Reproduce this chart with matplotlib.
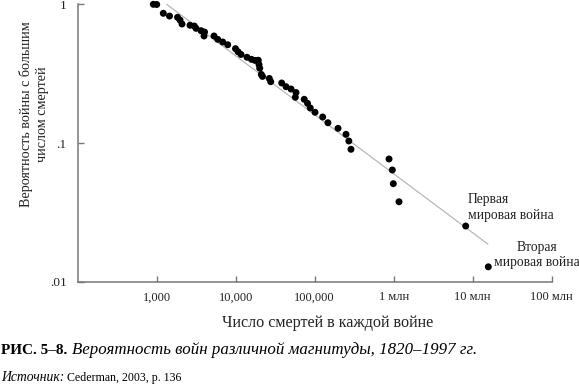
import numpy as np
import matplotlib
matplotlib.use('Agg')
import matplotlib.pyplot as plt
from matplotlib.ticker import FixedLocator, NullLocator

plt.rcParams['font.family'] = ['Liberation Serif', 'DejaVu Serif']

# число смертей в войне и вероятность войны с большим числом смертей
deaths = [906, 1000, 1212, 1452, 1834, 1972, 2090, 2640, 2992, 3144,
          3637, 4027, 3970, 5312, 5918, 6843, 7920, 9937, 10700, 11670,
          13900, 15850, 17540, 19320, 19720, 20130, 21090, 21840, 26620, 27730,
          38200, 43350, 50120, 57980, 56800, 73620, 81100, 87900, 100900, 126200,
          146900, 197200, 248900, 270300, 287800, 872400, 960000, 988000, 1167000,
          8150000, 15750000]
prob = [1.0, 0.997, 0.861, 0.823, 0.806, 0.770, 0.721, 0.706, 0.697, 0.671,
        0.645, 0.631, 0.591, 0.591, 0.559, 0.535, 0.511, 0.479, 0.455, 0.435,
        0.415, 0.401, 0.394, 0.395, 0.368, 0.346, 0.312, 0.302, 0.292, 0.2767,
        0.2708, 0.2546, 0.245, 0.2312, 0.2136, 0.2065, 0.1932, 0.1788, 0.1665, 0.154,
        0.140, 0.1276, 0.1155, 0.1034, 0.0901, 0.0767, 0.0639, 0.0509, 0.0377,
        0.0252, 0.0128]

# линия степенного закона (концы)
fit_x = [1339, 15490000]
fit_y = [1.0, 0.0187]

xticks = [1e3, 1e4, 1e5, 1e6, 1e7, 1e8]
xtick_labels = ['1,000', '10,000', '100,000', '1 млн', '10 млн', '100 млн']
yticks = [0.01, 0.1, 1]
ytick_labels = ['.01', '.1', '1']

fig = plt.figure(figsize=(5.79, 3.84), dpi=100)
ax = fig.add_axes([0.1342, 0.2664, 0.8187, 0.7224])

ax.plot(fit_x, fit_y, color='#b8b8b8', linewidth=0.9, zorder=1)
ax.scatter(deaths, prob, s=25, color='black', edgecolors='none', zorder=3, clip_on=False)

ax.set_xscale('log')
ax.set_yscale('log')
ax.set_xlim(100, 1e8)
ax.set_ylim(0.01, 1)

ax.xaxis.set_major_locator(FixedLocator(xticks))
ax.xaxis.set_minor_locator(NullLocator())
ax.yaxis.set_major_locator(FixedLocator(yticks))
ax.yaxis.set_minor_locator(NullLocator())
ax.set_xticklabels(xtick_labels)
ax.set_yticklabels(ytick_labels)

for s in ['top', 'right']:
    ax.spines[s].set_visible(False)
for s in ['left', 'bottom']:
    ax.spines[s].set_color('#777777')
    ax.spines[s].set_linewidth(1.1)

ax.tick_params(axis='x', direction='in', length=4, width=1, color='#777777',
               labelsize=9, labelcolor='#222222', pad=7)
ax.tick_params(axis='y', direction='in', length=4.5, width=1, color='#777777',
               labelsize=9.5, labelcolor='#222222', pad=8)

ax.set_xlabel('Число смертей в каждой войне', fontsize=11.6, color='#222222')
ax.xaxis.set_label_coords(0.528, -0.121)
ax.set_ylabel('Вероятность войны с большим\nчислом смертей', fontsize=10.2,
              color='#222222', linespacing=1.3)
ax.yaxis.set_label_coords(-0.06, 0.605)

ax.text(8.73e6, 0.0343, 'Первая\nмировая война', fontsize=9.8, color='#222222',
        ha='left', va='center', linespacing=1.25)
ax.text(6.52e7, 0.01558, 'Вторая\nмировая война', fontsize=9.8, color='#222222',
        ha='center', va='center', linespacing=1.25, multialignment='center')

# подпись к рисунку
fig.canvas.draw()
r = fig.canvas.get_renderer()
t1 = fig.text(1 / 579, 1 - 350 / 384, 'РИС. 5–8.', fontsize=11, weight='bold',
              va='center', ha='left')
bb = t1.get_window_extent(renderer=r)
fig.text(bb.x1 / 579 + 5 / 579, 1 - 350 / 384,
         'Вероятность войн различной магнитуды, 1820–1997 гг.',
         fontsize=12.2, style='italic', va='center', ha='left')
t2 = fig.text(1 / 579, 1 - 377.5 / 384, 'Источник:', fontsize=9.8, style='italic',
              va='center', ha='left')
bb2 = t2.get_window_extent(renderer=r)
fig.text(bb2.x1 / 579 + 3 / 579, 1 - 377.5 / 384, 'Cederman, 2003, p. 136',
         fontsize=8.6, va='center', ha='left')

fig.savefig('out.png', dpi=100)
